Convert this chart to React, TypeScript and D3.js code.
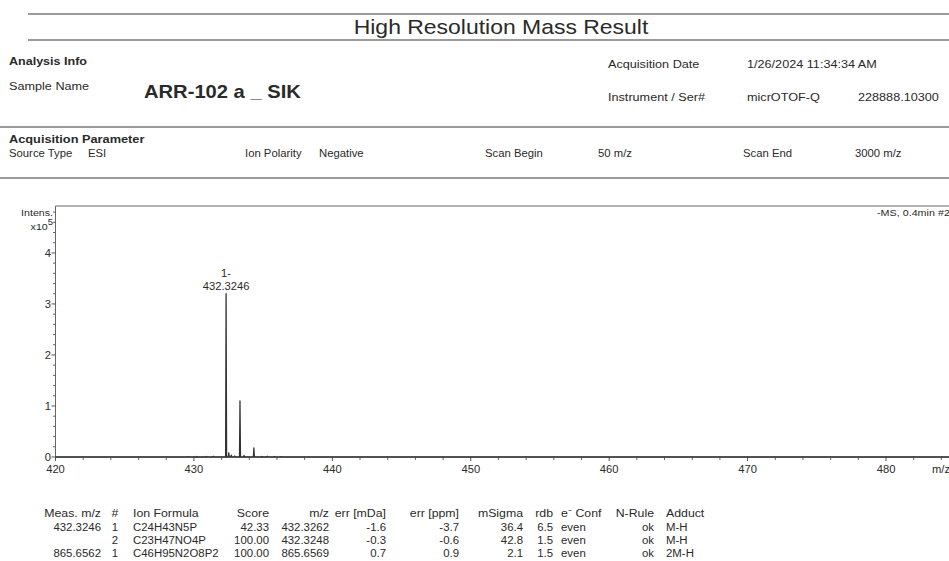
import React from "react";
import * as d3 from "d3";

// Spectrum: peak centroids (m/z) and intensities (x10^5)
const peakMz = [429.6, 430.2, 430.9, 431.4, 432.3246, 432.52, 432.7, 432.95, 433.3279, 433.62, 434.3312, 434.9, 435.3, 435.8, 436.3];
const peakIntensity = [0.008, 0.012, 0.01, 0.015, 3.2, 0.08, 0.035, 0.02, 1.1, 0.03, 0.18, 0.012, 0.015, 0.01, 0.008];

const xTicksMajor = [420, 430, 440, 450, 460, 470, 480];
const yTicksMajor = [0, 1, 2, 3, 4];

const labelledPeakMz = 432.3246;
const labelledPeakIntensity = 3.2;
const labelledPeakCharge = "1-";

// Header fields
const analysisLeft = [["Sample Name", "ARR-102 a _ SIK"]];
const analysisRight = [
  ["Acquisition Date", "1/26/2024 11:34:34 AM", ""],
  ["Instrument / Ser#", "micrOTOF-Q", "228888.10300"],
];
const paramLabels = ["Source Type", "Ion Polarity", "Scan Begin", "Scan End"];
const paramValues = ["ESI", "Negative", "50 m/z", "3000 m/z"];

// Formula table
const tableHeaders = ["Meas. m/z", "#", "Ion Formula", "Score", "m/z", "err [mDa]", "err [ppm]", "mSigma", "rdb", "e\u207B Conf", "N-Rule", "Adduct"];
const measMz = ["432.3246", "", "865.6562"];
const candNo = ["1", "2", "1"];
const ionFormula = ["C24H43N5P", "C23H47NO4P", "C46H95N2O8P2"];
const score = ["42.33", "100.00", "100.00"];
const calcMz = ["432.3262", "432.3248", "865.6569"];
const errMDa = ["-1.6", "-0.3", "0.7"];
const errPpm = ["-3.7", "-0.6", "0.9"];
const mSigma = ["36.4", "42.8", "2.1"];
const rdb = ["6.5", "1.5", "1.5"];
const eConf = ["even", "even", "even"];
const nRule = ["ok", "ok", "ok"];
const adduct = ["M-H", "M-H", "2M-H"];

const W = 949;
const H = 561;
const FONT = "'Liberation Sans', Arial, Helvetica, sans-serif";
const TXT = "#2a2a2a";
const RULE = "#7a7a7a";
const SX = 1.12; // report typeface runs slightly wide

type Anchor = "start" | "middle" | "end";

function Label({
  x,
  y,
  size,
  anchor = "start",
  bold = false,
  children,
}: {
  x: number;
  y: number;
  size: number;
  anchor?: Anchor;
  bold?: boolean;
  children: React.ReactNode;
}) {
  return (
    <text
      transform={`translate(${x},${y}) scale(${SX},1)`}
      textAnchor={anchor}
      fontSize={size}
      fontWeight={bold ? "bold" : "normal"}
      fill={TXT}
    >
      {children}
    </text>
  );
}

export default function App() {
  const x = d3.scaleLinear().domain([420, 484.55]).range([55.5, 949]);
  const y = d3.scaleLinear().domain([0, 4.92]).range([457, 206]);

  const minorX = d3.range(420, 485, 2).filter((v) => v % 10 !== 0);
  const minorY = d3.range(0, 4.95, 0.2).filter((v) => Math.abs(v - Math.round(v)) > 1e-6);

  // Profile trace: baseline with a narrow triangular peak at each centroid
  const pts: [number, number][] = [[420, 0]];
  const halfWidth = 0.035;
  peakMz.forEach((m, i) => {
    pts.push([m - halfWidth, 0], [m, peakIntensity[i]], [m + halfWidth, 0]);
  });
  pts.push([484.55, 0]);
  const line = d3
    .line<[number, number]>()
    .x((d) => x(d[0]))
    .y((d) => y(d[1]));

  const columns: { values: string[]; header: string; anchor: Anchor; pos: number }[] = [
    { header: tableHeaders[0], values: measMz, anchor: "end", pos: 101 },
    { header: tableHeaders[1], values: candNo, anchor: "middle", pos: 115 },
    { header: tableHeaders[2], values: ionFormula, anchor: "start", pos: 133 },
    { header: tableHeaders[3], values: score, anchor: "end", pos: 269 },
    { header: tableHeaders[4], values: calcMz, anchor: "end", pos: 329 },
    { header: tableHeaders[5], values: errMDa, anchor: "end", pos: 386 },
    { header: tableHeaders[6], values: errPpm, anchor: "end", pos: 459 },
    { header: tableHeaders[7], values: mSigma, anchor: "end", pos: 523 },
    { header: tableHeaders[8], values: rdb, anchor: "end", pos: 553 },
    { header: tableHeaders[9], values: eConf, anchor: "start", pos: 561 },
    { header: tableHeaders[10], values: nRule, anchor: "end", pos: 654 },
    { header: tableHeaders[11], values: adduct, anchor: "start", pos: 666 },
  ];

  const paramX = [9, 245, 485, 743];
  const paramValX = [88, 319, 598, 855];

  return (
    <svg
      width={W}
      height={H}
      viewBox={`0 0 ${W} ${H}`}
      style={{ position: "absolute", left: 0, top: 0, background: "#fff", fontFamily: FONT }}
    >
      <rect x={0} y={0} width={W} height={H} fill="#fff" />

      {/* Title band */}
      <line x1={28} x2={W} y1={14} y2={14} stroke={RULE} strokeWidth={1.4} />
      <line x1={28} x2={W} y1={40} y2={40} stroke={RULE} strokeWidth={1.4} />
      <Label x={501} y={34} size={20.5} anchor="middle">
        High Resolution Mass Result
      </Label>

      {/* Analysis info */}
      <Label x={9} y={65} size={11.2} bold>
        Analysis Info
      </Label>
      {analysisLeft.map(([k, v]) => (
        <g key={k}>
          <Label x={9} y={90} size={11.3}>
            {k}
          </Label>
          <Label x={144} y={98} size={18} bold>
            {v}
          </Label>
        </g>
      ))}
      {analysisRight.map(([k, v, s], i) => (
        <g key={k}>
          <Label x={608} y={68 + i * 33} size={11.3}>
            {k}
          </Label>
          <Label x={747} y={68 + i * 33} size={11.3}>
            {v}
          </Label>
          {s && (
            <Label x={858} y={68 + i * 33} size={11.3}>
              {s}
            </Label>
          )}
        </g>
      ))}

      {/* Acquisition parameters */}
      <line x1={0} x2={W} y1={127} y2={127} stroke={RULE} strokeWidth={1.4} />
      <Label x={9} y={143} size={11.4} bold>
        Acquisition Parameter
      </Label>
      {paramLabels.map((k, i) => (
        <g key={k}>
          <Label x={paramX[i]} y={157} size={10.1}>
            {k}
          </Label>
          <Label x={paramValX[i]} y={157} size={10.1}>
            {paramValues[i]}
          </Label>
        </g>
      ))}
      <line x1={0} x2={W} y1={178} y2={178} stroke={RULE} strokeWidth={1.4} />

      {/* Spectrum frame */}
      <line x1={55.5} x2={W} y1={206} y2={206} stroke="#666" strokeWidth={1} />
      <line x1={55.5} x2={55.5} y1={206} y2={457.5} stroke="#666" strokeWidth={1} />
      <line x1={55.5} x2={W} y1={457} y2={457} stroke="#666" strokeWidth={1} />

      {/* Y axis */}
      {yTicksMajor.map((v) => (
        <g key={v}>
          <line x1={51.5} x2={55.5} y1={y(v)} y2={y(v)} stroke="#555" />
          <Label x={51} y={y(v) + 4} size={10} anchor="end">
            {v}
          </Label>
        </g>
      ))}
      {minorY.map((v) => (
        <line key={v} x1={53} x2={55.5} y1={y(v)} y2={y(v)} stroke="#666" />
      ))}
      <Label x={53} y={215.5} size={9.5} anchor="end">
        Intens.
      </Label>
      <Label x={53} y={230} size={9.5} anchor="end">
        x10<tspan dy={-5} fontSize={8.5}>5</tspan>
      </Label>

      {/* X axis */}
      {xTicksMajor.map((v) => (
        <g key={v}>
          <line x1={x(v)} x2={x(v)} y1={457} y2={461} stroke="#555" />
          <Label x={x(v)} y={473} size={10} anchor="middle">
            {v}
          </Label>
        </g>
      ))}
      {minorX.map((v) => (
        <line key={v} x1={x(v)} x2={x(v)} y1={457} y2={460} stroke="#666" />
      ))}
      <Label x={932} y={473} size={10}>
        m/z
      </Label>

      <Label x={877} y={216} size={9.6}>
        -MS, 0.4min #22
      </Label>

      {/* Trace */}
      <path d={line(pts) ?? ""} fill="none" stroke="#333" strokeWidth={1.3} strokeLinejoin="round" />

      {/* Peak annotation */}
      <Label x={x(labelledPeakMz)} y={y(labelledPeakIntensity) - 17} size={10} anchor="middle">
        {labelledPeakCharge}
      </Label>
      <Label x={x(labelledPeakMz)} y={y(labelledPeakIntensity) - 4} size={10} anchor="middle">
        {labelledPeakMz.toFixed(4)}
      </Label>

      {/* Formula table */}
      {columns.map((c, ci) => (
        <g key={ci}>
          <Label x={c.pos} y={516.5} size={11} anchor={c.anchor}>
            {c.header}
          </Label>
          {c.values.map((v, ri) => (
            <Label key={ri} x={c.pos} y={530.5 + ri * 13.2} size={10.2} anchor={c.anchor}>
              {v}
            </Label>
          ))}
        </g>
      ))}
    </svg>
  );
}
